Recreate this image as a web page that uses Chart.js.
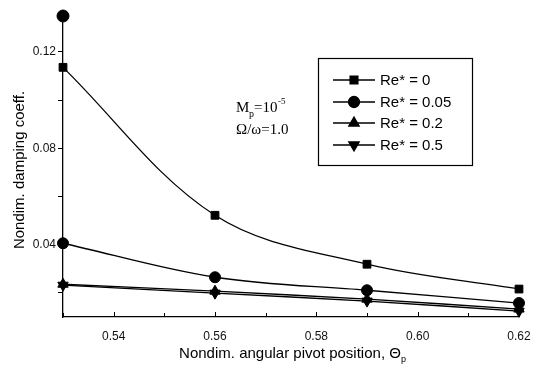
<!DOCTYPE html>
<html>
<head>
<meta charset="utf-8">
<script src="https://cdn.jsdelivr.net/npm/chart.js@4/dist/chart.umd.min.js"></script>
<style>
  html, body { margin: 0; padding: 0; background: #fff; }
  #wrap { width: 535px; height: 370px; }
</style>
</head>
<body>
<div id="wrap"><canvas id="chart" width="535" height="370"></canvas></div>
<script>
// pivot positions (x) and damping coefficients per Re*
const pivotPos = [0.53, 0.56, 0.59, 0.62];
const re0 = [0.1136, 0.0522, 0.0319, 0.0216];
const re005 = [0.0406, 0.0265, 0.0211, 0.0158];
const re02 = [0.0236, 0.0207, 0.0174, 0.0133];
const re05 = [0.0232, 0.0199, 0.0166, 0.0124];
const seriesLabels = ['Re* = 0', 'Re* = 0.05', 'Re* = 0.2', 'Re* = 0.5'];
// stray circle drawn above the axis top in the original
const strayPoint = { x: 0.53, y: 0.1349 };

const xTicks = [0.53, 0.54, 0.55, 0.56, 0.57, 0.58, 0.59, 0.60, 0.61, 0.62];
const xLabelled = [0.54, 0.56, 0.58, 0.60, 0.62];
const yTicks = [0.02, 0.04, 0.06, 0.08, 0.10, 0.12];
const yLabelled = [0.04, 0.08, 0.12];

const markers = [
  { style: 'rect', radius: 5.5, rotation: 0 },
  { style: 'circle', radius: 5.5, rotation: 0 },
  { style: 'triangle', radius: 6, rotation: 0 },
  { style: 'triangle', radius: 6, rotation: 180 },
];

const series = [re0, re005, re02, re05];
const isLabelled = (v, list) => list.some(l => Math.abs(l - v) < 1e-6);

const datasets = series.map((vals, i) => ({
  label: seriesLabels[i],
  data: pivotPos.map((x, j) => ({ x: x, y: vals[j] })),
  borderColor: '#000',
  backgroundColor: '#000',
  borderWidth: 1.3,
  pointStyle: markers[i].style,
  pointRadius: markers[i].radius,
  pointRotation: markers[i].rotation,
  pointBorderWidth: 1,
  tension: 0.35,
  clip: false,
}));

datasets.push({
  label: 'stray',
  data: [strayPoint],
  showLine: false,
  pointStyle: 'circle',
  pointRadius: 6,
  backgroundColor: '#000',
  borderColor: '#000',
  clip: false,
});

// legend box, annotation and x-axis title drawn by hand
const extras = {
  id: 'extras',
  afterDraw(chart) {
    const ctx = chart.ctx;
    const xs = chart.scales.x;
    const area = chart.chartArea;
    ctx.save();

    // inward x tick marks
    ctx.strokeStyle = '#000';
    ctx.lineWidth = 1;
    xTicks.forEach(v => {
      const px = Math.round(xs.getPixelForValue(v)) + 0.5;
      const len = isLabelled(v, xLabelled) ? 5 : 4;
      ctx.beginPath();
      ctx.moveTo(px, area.bottom);
      ctx.lineTo(px, area.bottom - len);
      ctx.stroke();
    });

    // legend
    ctx.lineWidth = 1.2;
    ctx.strokeRect(318.5, 58.5, 154, 107);
    ctx.font = '15px "Liberation Sans", Arial, sans-serif';
    ctx.textBaseline = 'middle';
    ctx.fillStyle = '#000';
    const rowY = [80, 102, 123, 145];
    seriesLabels.forEach((lab, i) => {
      const y = rowY[i];
      ctx.lineWidth = 1.3;
      ctx.beginPath();
      ctx.moveTo(333, y);
      ctx.lineTo(375, y);
      ctx.stroke();
      Chart.helpers.drawPoint(ctx, {
        pointStyle: markers[i].style,
        radius: markers[i].radius,
        rotation: markers[i].rotation,
        borderWidth: 1,
      }, 354, y);
      ctx.fillStyle = '#000';
      ctx.fill();
      ctx.fillText(lab, 380, y + 1);
    });

    // annotation
    ctx.textBaseline = 'alphabetic';
    ctx.font = '15px "Liberation Serif", "Times New Roman", serif';
    ctx.fillText('M', 236, 112);
    ctx.font = '10px "Liberation Serif", serif';
    ctx.fillText('p', 249, 117);
    ctx.font = '15px "Liberation Serif", serif';
    ctx.fillText('=10', 254, 112);
    ctx.font = '9px "Liberation Serif", serif';
    ctx.fillText('-5', 278, 104);
    ctx.font = '15px "Liberation Serif", serif';
    ctx.fillText('\u03A9/\u03C9=1.0', 236, 134);

    // x-axis title
    ctx.font = '15px "Liberation Sans", Arial, sans-serif';
    const main = 'Nondim. angular pivot position, \u0398';
    const w = ctx.measureText(main).width;
    const x0 = 290 - w / 2;
    ctx.fillText(main, x0, 358);
    ctx.font = '9px "Liberation Sans", Arial, sans-serif';
    ctx.fillText('p', x0 + w, 362);

    ctx.restore();
  }
};

new Chart(document.getElementById('chart'), {
  type: 'scatter',
  data: { datasets: datasets },
  options: {
    responsive: false,
    animation: false,
    showLine: true,
    layout: { padding: { top: 23, right: 16, left: 11, bottom: 0 } },
    plugins: {
      legend: { display: false },
      tooltip: { enabled: false },
    },
    scales: {
      x: {
        type: 'linear',
        min: 0.53,
        max: 0.62,
        afterBuildTicks: (axis) => { axis.ticks = xTicks.map(v => ({ value: v })); },
        afterFit: (axis) => { axis.height = 53; },
        grid: { display: false },
        border: { display: true, color: '#000', width: 1.3 },
        ticks: {
          autoSkip: false,
          maxRotation: 0,
          padding: 4,
          color: '#111',
          font: { family: '"Liberation Sans", Arial, sans-serif', size: 12 },
          callback: (v) => isLabelled(v, xLabelled) ? v.toFixed(2) : '',
        },
      },
      y: {
        type: 'linear',
        min: 0.01,
        max: 0.132,
        afterBuildTicks: (axis) => { axis.ticks = yTicks.map(v => ({ value: v })); },
        afterFit: (axis) => { axis.width = 52; },
        grid: { drawOnChartArea: false, tickLength: 5, color: '#000', lineWidth: 1 },
        border: { display: true, color: '#000', width: 1.3 },
        title: {
          display: true,
          text: 'Nondim. damping coeff.',
          color: '#000',
          font: { family: '"Liberation Sans", Arial, sans-serif', size: 15 },
          padding: { top: 0, bottom: 4 },
        },
        ticks: {
          autoSkip: false,
          padding: 2,
          color: '#111',
          font: { family: '"Liberation Sans", Arial, sans-serif', size: 12 },
          callback: (v) => isLabelled(v, yLabelled) ? v.toFixed(2) : '',
        },
      },
    },
  },
  plugins: [extras],
});
</script>
</body>
</html>
